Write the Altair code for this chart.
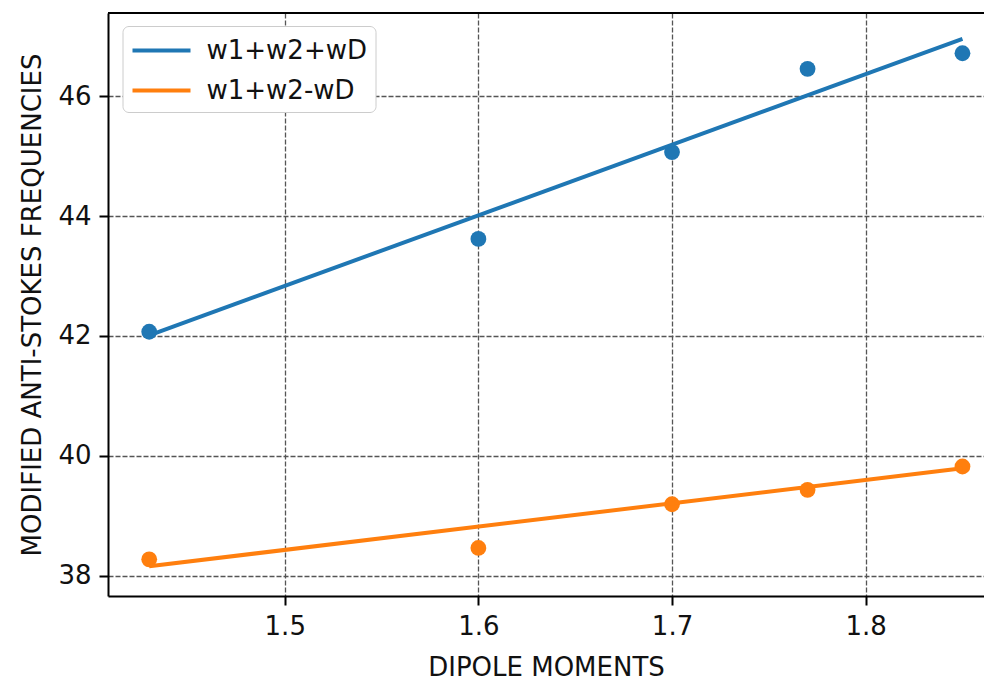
import altair as alt
import pandas as pd

# ---- data ----
dipole = [1.43, 1.6, 1.7, 1.77, 1.85]
sum_vals = [42.07, 43.62, 45.07, 46.46, 46.72]      # w1+w2+wD (points)
diff_vals = [38.27, 38.46, 39.19, 39.43, 39.82]     # w1+w2-wD (points)
fit_x = [1.43, 1.85]
fit_sum = [42.01, 46.96]                            # fitted line w1+w2+wD
fit_diff = [38.155, 39.79]                          # fitted line w1+w2-wD
series = ["w1+w2+wD", "w1+w2-wD"]
colors = ["#1f77b4", "#ff7f0e"]
x_ticks = [1.5, 1.6, 1.7, 1.8]
y_ticks = [38, 40, 42, 44, 46]

pts = pd.DataFrame({
    "x": dipole + dipole,
    "y": sum_vals + diff_vals,
    "series": [series[0]] * len(dipole) + [series[1]] * len(dipole),
    "hex": [colors[0]] * len(dipole) + [colors[1]] * len(dipole),
})
lines = pd.DataFrame({
    "x": fit_x + fit_x,
    "y": fit_sum + fit_diff,
    "series": [series[0]] * 2 + [series[1]] * 2,
})

W = 876
H = 583

xscale = alt.Scale(domain=[1.40872, 1.86112], nice=False, zero=False)
yscale = alt.Scale(domain=[37.658, 47.392], nice=False, zero=False)

xaxis = alt.Axis(values=x_ticks, format=".1f", title="DIPOLE MOMENTS")
yaxis = alt.Axis(values=y_ticks, format="d", title="MODIFIED ANTI-STOKES FREQUENCIES")

points = alt.Chart(pts).mark_circle(size=250, opacity=1).encode(
    x=alt.X("x:Q", scale=xscale, axis=xaxis),
    y=alt.Y("y:Q", scale=yscale, axis=yaxis),
    color=alt.Color("hex:N", scale=None),
)

fit = alt.Chart(lines).mark_line(strokeWidth=4).encode(
    x=alt.X("x:Q", scale=xscale),
    y=alt.Y("y:Q", scale=yscale),
    color=alt.Color(
        "series:N",
        scale=alt.Scale(domain=series, range=colors),
        legend=alt.Legend(
            title=None,
            orient="none",
            legendX=14.5,
            legendY=13,
            symbolType="M-1,0H3",
            symbolSize=841,
            symbolStrokeWidth=4,
            labelFontSize=26,
            labelFont="DejaVu Sans",
            labelColor="#111",
            labelLimit=400,
            labelOffset=43,
            rowPadding=10,
            padding=8,
            fillColor="white",
            strokeColor="#cccccc",
            cornerRadius=6,
        ),
    ),
    detail="series:N",
)

top_spine = alt.Chart(pd.DataFrame({"a": [0]})).mark_rule(color="black", strokeWidth=2).encode(
    x=alt.value(0), x2=alt.value(W), y=alt.value(0)
)

chart = (
    alt.layer(points, fit, top_spine)
    .properties(
        width=W,
        height=H,
        autosize=alt.AutoSizeParams(type="none"),
        padding={"left": 100, "top": 5, "right": 0, "bottom": 90},
    )
    .configure_view(stroke=None)
    .configure_axis(
        labelFont="DejaVu Sans",
        titleFont="DejaVu Sans",
        labelFontSize=26,
        titleFontSize=26,
        titleFontWeight="normal",
        labelColor="#111",
        titleColor="#111",
        domainColor="black",
        domainWidth=2,
        tickColor="black",
        tickWidth=2,
        tickSize=9,
        labelPadding=8,
        grid=True,
        gridColor="#555555",
        gridDash=[5, 2],
        gridWidth=1.3,
        gridOpacity=1,
    )
    .configure_axisY(titlePadding=12)
    .configure_axisX(titlePadding=15)
)

chart.save("out.html", embed_options={"renderer": "svg", "actions": False})
